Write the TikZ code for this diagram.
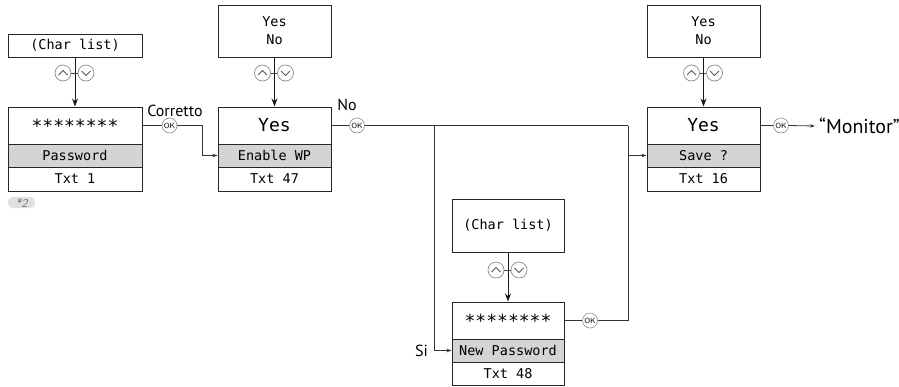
\documentclass[tikz,border=0pt]{standalone}
\usepackage{fontspec}
\setmainfont{PT Sans}
\newfontfamily\lcd{DejaVu Sans Mono}
\usetikzlibrary{arrows.meta}
\tikzset{
  cell/.style={draw=black!85, line width=1pt, inner sep=0pt, anchor=center,
    font=\lcd\fontsize{13.5}{18}\selectfont, align=center},
  big/.style={font=\lcd\fontsize{18}{20}\selectfont},
  shade/.style={fill=black!17},
  btn/.style={circle, draw=black!45, line width=0.7pt, minimum size=16pt, inner sep=0pt},
  okb/.style={circle, draw=black!45, line width=0.6pt, minimum size=15pt, inner sep=0pt,
    font=\sffamily\fontsize{7.5}{7.5}\selectfont},
  conn/.style={draw=black!80, line width=0.8pt},
  bigarrow/.style={draw=black!90, line width=1pt, -{Stealth[length=8pt,width=6pt]}},
  smallarrow/.style={conn, -{Stealth[length=5pt,width=3.5pt]}},
  lbl/.style={font=\fontsize{16}{18}\selectfont, inner sep=0pt},
}
\newcommand{\updn}[3]{% x y name
  \node[btn] (#3u) at (#1-12,#2) {};
  \node[btn] (#3d) at (#1+11,#2) {};
  \draw[black!65, line width=0.8pt] ([shift={(-4.5,2)}]#3u.center) -- ++(4.5,-4.5) -- ++(4.5,4.5);
  \draw[black!65, line width=0.8pt] ([shift={(-4.5,-2)}]#3d.center) -- ++(4.5,4.5) -- ++(4.5,-4.5);
  \draw[black!70, line width=0.7pt] (#3u.east) -- (#3d.west);
}
\begin{document}
\begin{tikzpicture}[x=1pt,y=-1pt]
\useasboundingbox (0,0) rectangle (899,386);

% ---- Box 1 : Password
\node[cell, minimum width=134pt, minimum height=23pt] (c1) at (75,45.5) {(Char list)};
\node[cell, big, minimum width=134pt, minimum height=37pt] (b1t) at (75,125.5) {********};
\node[cell, shade, minimum width=134pt, minimum height=23pt] (b1g) at (75,155.5) {Password};
\node[cell, minimum width=134pt, minimum height=24pt] (b1b) at (75,179) {Txt 1};
\updn{75}{73}{ud1}
\draw[bigarrow] (c1.south) -- (b1t.north);
\node[fill=black!12, rounded corners=4.5pt, minimum width=27pt, minimum height=11pt, inner sep=0pt,
  text=black!55, font=\sffamily\slshape\fontsize{12}{12}\selectfont] (n2) at (21.5,202.5) {*2};

% ---- Box 2 : Enable WP
\node[cell, minimum width=113pt, minimum height=52pt] (c2) at (274.5,31) {Yes\\No};
\node[cell, big, minimum width=113pt, minimum height=37pt] (b2t) at (274.5,125.5) {Yes};
\node[cell, shade, minimum width=113pt, minimum height=23pt] (b2g) at (274.5,155.5) {Enable WP};
\node[cell, minimum width=113pt, minimum height=24pt] (b2b) at (274.5,179) {Txt 47};
\updn{274.5}{73}{ud2}
\draw[bigarrow] (c2.south) -- (b2t.north);

% ---- Box 3 : Save ?
\node[cell, minimum width=113pt, minimum height=52pt] (c3) at (703.5,31) {Yes\\No};
\node[cell, big, minimum width=113pt, minimum height=37pt] (b3t) at (703.5,125.5) {Yes};
\node[cell, shade, minimum width=113pt, minimum height=23pt] (b3g) at (703.5,155.5) {Save ?};
\node[cell, minimum width=113pt, minimum height=24pt] (b3b) at (703.5,179) {Txt 16};
\updn{703.5}{73}{ud3}
\draw[bigarrow] (c3.south) -- (b3t.north);

% ---- Box 4 : New Password
\node[cell, minimum width=112pt, minimum height=53pt] (c4) at (508,225.5) {(Char list)};
\node[cell, big, minimum width=112pt, minimum height=37pt] (b4t) at (508,320.5) {********};
\node[cell, shade, minimum width=112pt, minimum height=23pt] (b4g) at (508,350.5) {New Password};
\node[cell, minimum width=112pt, minimum height=23pt] (b4b) at (508,373.5) {Txt 48};
\updn{508}{270}{ud4}
\draw[bigarrow] (c4.south) -- (b4t.north);

% ---- OK buttons
\node[okb] (ok1) at (169.5,125.5) {OK};
\node[okb] (ok2) at (357,125.5) {OK};
\node[okb] (ok3) at (781,125.5) {OK};
\node[okb] (ok4) at (590,320.5) {OK};

\coordinate (k1) at (202,125.5);
\coordinate (j1) at (434,125.5);
\coordinate (j2) at (628,125.5);

% ---- connectors
\draw[conn] (b1t.east) -- (ok1.west);
\draw[smallarrow] (ok1.east) -- (k1) |- (b2g.west);
\draw[conn] (b2t.east) -- (ok2.west);
\draw[conn] (ok2.east) -- (j2);
\draw[smallarrow] (j2) |- (b3g.west);
\draw[smallarrow] (j1) |- (b4g.west);
\draw[conn] (b4t.east) -- (ok4.west);
\draw[conn] (ok4.east) -| (j2);
\draw[conn] (b3t.east) -- (ok3.west);
\node[font=\fontsize{20}{22}\selectfont, inner sep=0pt, anchor=west] (mon) at (819,126) {“Monitor”};
\draw[smallarrow] (ok3.east) -- ([xshift=-4pt]mon.west);

% ---- labels
\node[lbl] (lc) at (175,110.5) {Corretto};
\node[lbl] (lno) at (347,105) {No};
\node[lbl, anchor=east] (lsi) at (428,350.5) {Si};
\end{tikzpicture}
\end{document}
